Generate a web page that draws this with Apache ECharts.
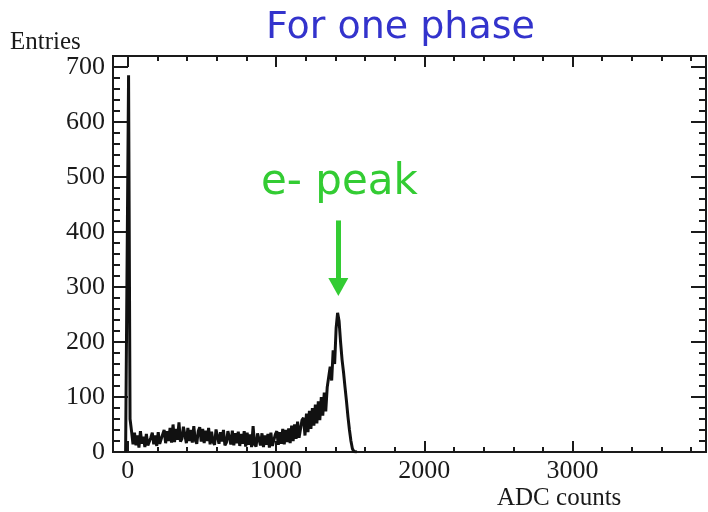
<!DOCTYPE html>
<html>
<head>
<meta charset="utf-8">
<script src="https://cdn.jsdelivr.net/npm/echarts@6/dist/echarts.min.js"></script>
<style>
  html, body { margin: 0; padding: 0; background: #fff; }
  #chart { width: 708px; height: 512px; }
</style>
</head>
<body>
<div id="chart"></div>
<script>
// ADC spectrum for one phase, 10-count bins starting at -20
const binStart = -20;
const binWidth = 10;
const counts = [
  0, 0,
  685, 60, 38, 14,
  35, 12, 30, 8, 38, 15,
  28, 9, 33, 12, 10, 26, 35, 14, 30, 11,
  36, 15, 18, 32, 40, 16, 38, 20, 44, 17,
  50, 18, 42, 22, 54, 19, 24, 46, 48, 16,
  44, 20, 40, 17, 47, 21, 15, 38, 45, 19,
  42, 16, 39, 20, 44, 14, 37, 18, 13, 41,
  43, 15, 36, 19, 40, 12, 17, 38, 35, 14,
  39, 12, 34, 16, 37, 11, 33, 15, 38, 10,
  35, 13, 32, 9, 47, 14, 10, 34, 31, 12,
  34, 9, 30, 13, 33, 8, 35, 11, 12, 32,
  38, 13, 36, 15, 42, 14, 40, 18, 43, 16,
  48, 20, 50, 24, 55, 26, 28, 58, 62, 30,
  70, 36, 75, 42, 80, 48, 86, 52, 92, 58,
  100, 66, 108, 74, 118,
  115, 155, 130, 185, 160,
  225, 253, 238, 200, 168,
  145, 118, 92, 64, 40,
  20, 6, 1, 0, 0
];

// axis ranges and tick positions
const xRange = [-100, 3900];
const yRange = [0, 720];
const xMajorTicks = [0, 1000, 2000, 3000];
const xMinorTicks = [0, 200, 400, 600, 800, 1000, 1200, 1400, 1600, 1800, 2000,
  2200, 2400, 2600, 2800, 3000, 3200, 3400, 3600, 3800];
const yMajorTicks = [0, 100, 200, 300, 400, 500, 600, 700];
const yMinorTicks = [0, 20, 40, 60, 80, 100, 120, 140, 160, 180, 200, 220, 240, 260,
  280, 300, 320, 340, 360, 380, 400, 420, 440, 460, 480, 500, 520, 540, 560, 580,
  600, 620, 640, 660, 680, 700, 720];

// arrow pointing at the electron peak
const peakArrow = { adc: 1420, from: 421, to: 300 };

const histData = counts.map((c, i) => [binStart + binWidth * (i + 0.5), c]);

const serif = '"Liberation Serif", "Times New Roman", serif';
const ink = '#1a1a1a';

function makeAxis(kind, position, ticks, tickLen, withLabels) {
  const range = kind === 'x' ? xRange : yRange;
  return {
    type: 'value',
    position: position,
    offset: 0,
    min: range[0],
    max: range[1],
    axisLine: { show: true, onZero: false, lineStyle: { color: ink, width: 2 } },
    axisTick: {
      show: true, inside: true, length: tickLen,
      customValues: ticks,
      lineStyle: { color: ink, width: 2 }
    },
    axisLabel: withLabels ? {
      show: true,
      customValues: ticks,
      formatter: (v) => String(v),
      fontFamily: serif,
      fontSize: 26,
      color: ink,
      margin: kind === 'x' ? 6 : 8
    } : { show: false },
    splitLine: { show: false }
  };
}

const chart = echarts.init(document.getElementById('chart'));
chart.setOption({
  animation: false,
  backgroundColor: '#ffffff',
  grid: { left: 113, right: 2, top: 56, bottom: 60 },
  xAxis: [
    makeAxis('x', 'bottom', xMajorTicks, 11, true),
    makeAxis('x', 'bottom', xMinorTicks, 5, false),
    makeAxis('x', 'top', xMajorTicks, 11, false),
    makeAxis('x', 'top', xMinorTicks, 5, false)
  ],
  yAxis: [
    makeAxis('y', 'left', yMajorTicks, 15, true),
    makeAxis('y', 'left', yMinorTicks, 7, false),
    makeAxis('y', 'right', yMajorTicks, 15, false),
    makeAxis('y', 'right', yMinorTicks, 7, false)
  ],
  series: [{
    type: 'line',
    xAxisIndex: 0,
    yAxisIndex: 0,
    data: histData,
    showSymbol: false,
    lineStyle: { color: '#111', width: 3 },
    markLine: {
      silent: true,
      symbol: ['none', 'triangle'],
      symbolSize: [20, 18],
      label: { show: false },
      lineStyle: { color: '#33cc33', width: 5, type: 'solid' },
      data: [[
        { coord: [peakArrow.adc, peakArrow.from] },
        { coord: [peakArrow.adc, peakArrow.to] }
      ]]
    }
  }],
  graphic: [
    {
      type: 'text', left: 266, top: 9,
      style: {
        text: 'For one phase', fill: '#3333cc',
        font: '38px "Comic Sans MS", "DejaVu Sans", sans-serif'
      }
    },
    {
      type: 'text', left: 261, top: 162,
      style: {
        text: 'e- peak', fill: '#33cc33',
        font: '42px "Comic Sans MS", "DejaVu Sans", sans-serif'
      }
    },
    {
      type: 'text', left: 10, top: 30,
      style: { text: 'Entries', fill: ink, font: '25px ' + serif }
    },
    {
      type: 'text', left: 497, top: 486,
      style: { text: 'ADC counts', fill: ink, font: '25px ' + serif }
    }
  ]
});
</script>
</body>
</html>
